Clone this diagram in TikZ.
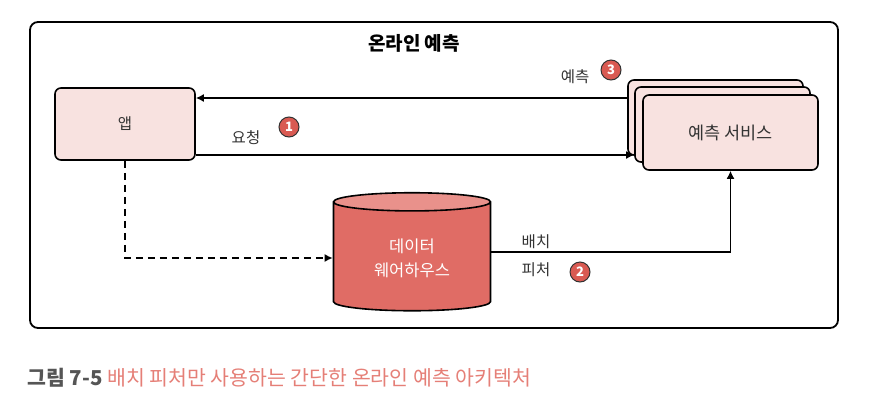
\documentclass[tikz,border=0pt]{standalone}
\usepackage{fontspec}
\setmainfont{Noto Sans CJK KR}
\usetikzlibrary{positioning,shapes.geometric,arrows.meta}

\definecolor{boxpink}{HTML}{F8E2E0}
\definecolor{dwbody}{HTML}{E06C65}
\definecolor{dwtop}{HTML}{E9918B}
\definecolor{badgered}{HTML}{D95A52}
\definecolor{capred}{HTML}{E57F77}
\definecolor{capgray}{HTML}{555555}
\definecolor{inkgray}{HTML}{333333}

\begin{document}
\begin{tikzpicture}[
    x=1pt, y=-1pt,
    font=\fontsize{15.5}{18}\selectfont,
    every node/.style={text=inkgray},
    box/.style={draw, line width=1.6pt, rounded corners=6pt, fill=boxpink},
    badge/.style={circle, draw=black!80, line width=1pt, fill=badgered, text=white, inner sep=0pt,
                  minimum size=20pt, font=\fontsize{13}{13}\selectfont\bfseries},
    flow/.style={draw, line width=1.5pt, -{Latex[length=8pt,width=8pt]}}
    ]
    \useasboundingbox (0,0) rectangle (890,402);

    % frame
    \draw[line width=1.8pt, rounded corners=8pt] (30,22) rectangle (838,328);
    \node[font=\fontsize{19}{22}\selectfont\bfseries, text=black] (title) at (414,43) {온라인 예측};

    % app and service stack
    \node[box, minimum width=140pt, minimum height=72pt] (app) at (125,124) {앱};
    \node[box, minimum width=175pt, minimum height=75pt] (svcback) at (715.5,117.5) {};
    \node[box, minimum width=175pt, minimum height=75pt] (svcmid)  at (722.5,124.5) {};
    \node[box, minimum width=175pt, minimum height=75pt,
          font=\fontsize{17.5}{20}\selectfont] (svc) at (730.5,132.5) {예측 서비스};

    % warehouse
    \node[cylinder, shape border rotate=90, aspect=0.22, draw, line width=1.6pt,
          minimum width=157pt, minimum height=118pt,
          cylinder uses custom fill, cylinder body fill=dwbody, cylinder end fill=dwtop,
          text=white, align=center, font=\fontsize{16.5}{24}\selectfont] (dw) at (412,258) {데이터\\웨어하우스};

    % connectors
    \draw[flow] ([yshift=26pt]app.east -| svcback.west) -- ([yshift=26pt]app.east);
    \draw[flow] ([yshift=-31pt]app.east) -- ([yshift=-31pt]app.east -| svcmid.west);
    \draw[flow, dash pattern=on 7pt off 5pt] (app.south) |- (dw.west);
    \draw[flow] ([yshift=6pt]dw.east) -| (svc.south);

    % labels
    \node (lreq) at (246,138) {요청};
    \node[badge] (b1) at (289,127) {1};
    \node (lpred) at (575,77) {예측};
    \node[badge] (b3) at (611,70) {3};
    \node (lbatch) at (536,242) {배치};
    \node (lfeat) at (536,270) {피처};
    \node[badge] (b2) at (580,272) {2};

    % caption
    \node[anchor=west, font=\fontsize{20.5}{23}\selectfont] (cap) at (24,378)
        {\textcolor{capgray}{\bfseries 그림 7-5} \textcolor{capred}{배치 피처만 사용하는 간단한 온라인 예측 아키텍처}};
\end{tikzpicture}
\end{document}
